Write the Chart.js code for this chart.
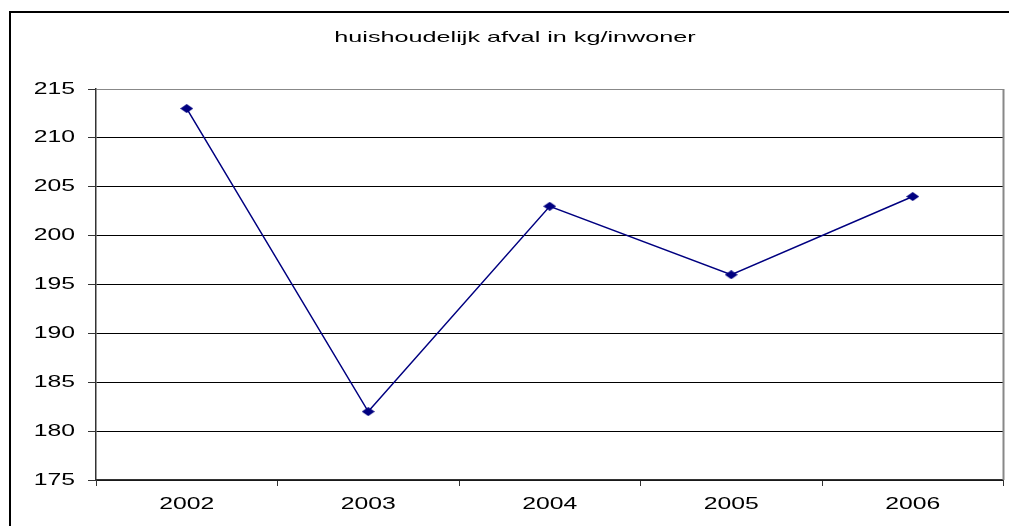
<!DOCTYPE html>
<html>
<head>
<meta charset="utf-8">
<script src="https://cdn.jsdelivr.net/npm/chart.js@4"></script>
<style>
  html, body { margin: 0; padding: 0; background: #fff; }
  #wrap { width: 1009px; height: 526px; }
</style>
</head>
<body>
<div id="wrap"><canvas id="lineChart" width="1009" height="526"></canvas></div>
<script>
const titel = 'huishoudelijk afval in kg/inwoner';
const jaren = ['2002', '2003', '2004', '2005', '2006'];
const afvalKg = [213, 182, 203, 196, 204];
const yMin = 175;
const yMax = 215;
const yStap = 5;

const lettertype = '"Liberation Sans", Arial, sans-serif';

// the original picture is stretched sideways, so the text is too
const canvas = document.getElementById('lineChart');
const ctx = canvas.getContext('2d');
const gewoneFill = ctx.fillText.bind(ctx);
let rek = 1.5;
ctx.fillText = function(tekst, x, y) {
    ctx.save();
    ctx.translate(x, y);
    ctx.scale(rek, 1);
    gewoneFill(tekst, 0, 0);
    ctx.restore();
};

// wide diamond marker
const ruit = document.createElement('canvas');
ruit.width = 13;
ruit.height = 9;
const rc = ruit.getContext('2d');
rc.fillStyle = '#000080';
rc.beginPath();
rc.moveTo(0, 4.5);
rc.lineTo(6.5, 0);
rc.lineTo(13, 4.5);
rc.lineTo(6.5, 9);
rc.closePath();
rc.fill();

// frame around the whole chart + title + right plot border
const kader = {
    id: 'kader',
    beforeDraw(chart) {
        const c = chart.ctx;
        c.save();
        c.strokeStyle = '#000';
        c.lineWidth = 2;
        c.strokeRect(10, 12, 1040, 560);
        c.restore();
    },
    afterDraw(chart) {
        const c = chart.ctx;
        const a = chart.chartArea;
        c.save();
        c.strokeStyle = '#888';
        c.lineWidth = 2;
        c.beginPath();
        c.moveTo(a.right, a.top);
        c.lineTo(a.right, a.bottom);
        c.stroke();
        c.fillStyle = '#000';
        c.font = '15px ' + lettertype;
        c.textAlign = 'center';
        c.textBaseline = 'alphabetic';
        rek = 1.68;
        c.fillText(titel, 515, 42);
        rek = 1.5;
        c.restore();
    }
};

new Chart(ctx, {
    type: 'line',
    data: {
        labels: jaren,
        datasets: [{
            data: afvalKg,
            borderColor: '#000080',
            backgroundColor: '#000080',
            borderWidth: 1.5,
            pointStyle: ruit,
            fill: false,
            tension: 0
        }]
    },
    options: {
        responsive: false,
        animation: false,
        layout: { padding: { top: 89, right: 5, left: 0, bottom: 0 } },
        plugins: {
            legend: { display: false },
            tooltip: { enabled: false }
        },
        scales: {
            x: {
                offset: true,
                afterFit(scale) { scale.height = 46; },
                grid: {
                    offset: true,
                    drawOnChartArea: false,
                    drawTicks: true,
                    tickLength: 6,
                    color: '#333'
                },
                border: { display: true, color: '#333', width: 1.5 },
                ticks: {
                    color: '#000',
                    padding: 9,
                    font: { family: lettertype, size: 16.5 }
                }
            },
            y: {
                min: yMin,
                max: yMax,
                afterFit(scale) { scale.width = 96; },
                grid: {
                    color: c => c.tick && c.tick.value === yMax ? '#888' : '#000',
                    lineWidth: 1,
                    drawTicks: true,
                    tickLength: 8,
                    tickColor: '#333'
                },
                border: { display: true, color: '#333', width: 1.5 },
                ticks: {
                    stepSize: yStap,
                    color: '#000',
                    padding: 13,
                    font: { family: lettertype, size: 16.5 }
                }
            }
        }
    },
    plugins: [kader]
});
</script>
</body>
</html>
